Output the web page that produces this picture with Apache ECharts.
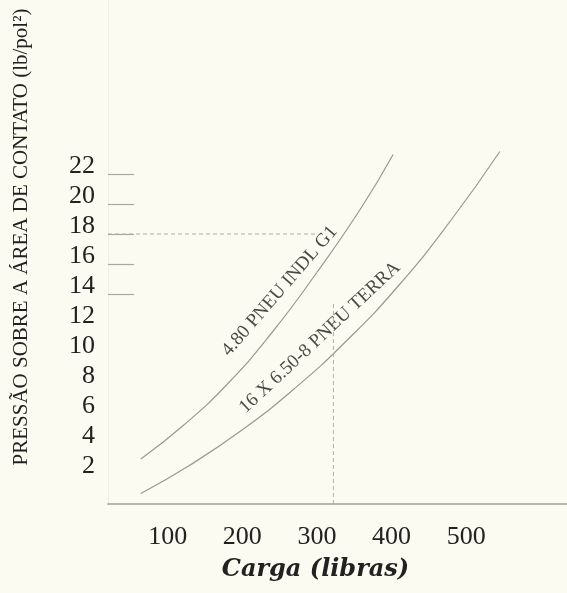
<!DOCTYPE html>
<html>
<head>
<meta charset="utf-8">
<script src="https://cdn.jsdelivr.net/npm/echarts@6/dist/echarts.min.js"></script>
<style>
html,body{margin:0;padding:0;background:#fbfbf1;}
#c{width:567px;height:593px;}
</style>
</head>
<body>
<div id="c"></div>
<script>
// Data
const xTickLabels = [100, 200, 300, 400, 500];
const yTickLabels = [2, 4, 6, 8, 10, 12, 14, 16, 18, 20, 22];
const yTickMarks = [14, 16, 18, 20, 22];
const curveIndl = [[64,3.0],[120,5.2],[180,8.0],[240,11.45],[300,15.45],[360,19.8],[402,23.3]];
const curveTerra = [[64,0.7],[130,2.6],[200,4.95],[270,7.7],[340,10.9],[410,14.6],[480,18.95],[545,23.5]];
const refHorizontal = [[20,18],[300,18]];
const refVertical = [[322,0],[322,13.5]];
const nameIndl = '4.80 PNEU INDL G1';
const nameTerra = '16 X 6.50-8 PNEU TERRA';
const labelIndlPos = [250, 14.2];
const labelTerraPos = [304, 11.1];

const serif = '"Liberation Serif", "DejaVu Serif", serif';
const chart = echarts.init(document.getElementById('c'));
chart.setOption({
  backgroundColor: '#fbfbf1',
  animation: false,
  grid: {left: 108, right: 0, top: 0, bottom: 89, outerBoundsMode: 'none', containLabel: false},
  xAxis: {
    type: 'value', min: 20, max: 635,
    name: 'Carga (libras)', nameLocation: 'middle', nameGap: 54,
    nameTextStyle: {fontFamily: '"DejaVu Serif", serif', fontSize: 24, fontWeight: 'bold', fontStyle: 'italic', color: '#222', padding: [0, 44, 0, 0]},
    axisLine: {show: true, lineStyle: {color: '#b8b8b0', width: 2}},
    axisTick: {show: false},
    splitLine: {show: false},
    axisLabel: {customValues: xTickLabels, fontFamily: serif, fontSize: 26, color: '#222', margin: 20}
  },
  yAxis: {
    type: 'value', min: 0, max: 33.6,
    name: 'PRESSÃO SOBRE A ÁREA DE CONTATO (lb/pol²)', nameLocation: 'middle', nameGap: 76, nameRotate: 90,
    nameTextStyle: {fontFamily: serif, fontSize: 21, color: '#222', padding: [0, 0, 0, 30]},
    axisLine: {show: true, lineStyle: {color: '#efefe6', width: 1}},
    axisTick: {show: true, inside: true, length: 26, customValues: yTickMarks, lineStyle: {color: '#a8a8a0', width: 1.2}},
    splitLine: {show: false},
    axisLabel: {customValues: yTickLabels, fontFamily: serif, fontSize: 26, color: '#222', margin: 13, verticalAlign: 'bottom', lineHeight: 16}
  },
  series: [
    {type: 'line', data: curveIndl, smooth: true, showSymbol: false, lineStyle: {color: '#999990', width: 1.2}},
    {type: 'line', data: curveTerra, smooth: true, showSymbol: false, lineStyle: {color: '#999990', width: 1.2}},
    {type: 'line', data: refHorizontal, showSymbol: false, lineStyle: {color: '#b0b0a8', width: 1, type: [4, 3]}},
    {type: 'line', data: refVertical, showSymbol: false, lineStyle: {color: '#b0b0a8', width: 1, type: [4, 3]}},
    {type: 'scatter', symbolSize: 0, data: [{value: labelIndlPos, name: nameIndl}],
     label: {show: true, position: 'inside', formatter: '{b}', rotate: 49, fontFamily: serif, fontSize: 19, color: '#1a1a1a'}},
    {type: 'scatter', symbolSize: 0, data: [{value: labelTerraPos, name: nameTerra}],
     label: {show: true, position: 'inside', formatter: '{b}', rotate: 43, fontFamily: serif, fontSize: 19, color: '#1a1a1a'}}
  ]
});
</script>
</body>
</html>
